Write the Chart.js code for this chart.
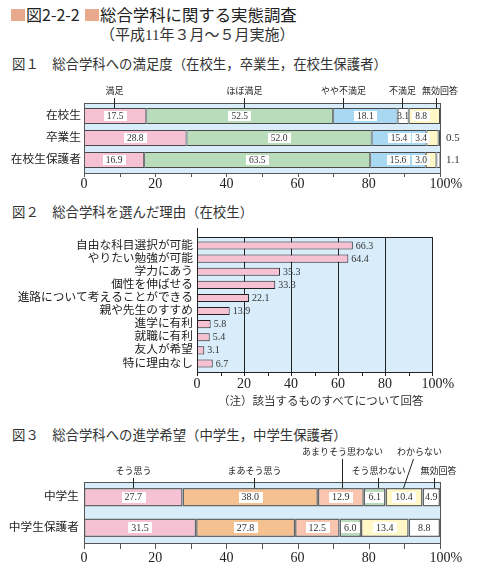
<!DOCTYPE html>
<html lang="ja">
<head>
<meta charset="utf-8">
<script src="https://cdn.jsdelivr.net/npm/chart.js@4.4.1/dist/chart.umd.min.js"></script>
<style>
  body { margin: 0; background: #fff; }
  #page { position: relative; width: 477px; height: 575px; overflow: hidden; color: #333;
          font-family: "Liberation Serif", "Noto Sans CJK JP", serif; }
  .t { position: absolute; white-space: nowrap; line-height: 1; }
  .sq { position: absolute; width: 14px; height: 12px; background: #e9a98c; }
  canvas { position: absolute; left: 0; }
</style>
</head>
<body>
<div id="page">
  <div class="sq" style="left:11px;top:9px"></div>
  <div class="t" style="left:26px;top:6px;font-size:16px;font-family:'Noto Sans CJK JP';color:#222">図2-2-2</div>
  <div class="sq" style="left:85px;top:9px"></div>
  <div class="t" style="left:100px;top:6px;font-size:16.4px;font-family:'Noto Sans CJK JP';color:#222">総合学科に関する実態調査</div>
  <div class="t" style="left:100px;top:28px;font-size:15px">（平成11年３月～５月実施）</div>

  <div class="t" style="left:12px;top:58px;font-size:13.4px">図１　総合学科への満足度（在校生，卒業生，在校生保護者）</div>
  <canvas id="c1" width="477" height="117" style="top:78px"></canvas>

  <div class="t" style="left:12px;top:206px;font-size:13.4px">図２　総合学科を選んだ理由（在校生）</div>
  <canvas id="c2" width="477" height="175" style="top:222px"></canvas>
  <div class="t" style="left:218px;top:396px;font-size:11.5px">（注）該当するものすべてについて回答</div>

  <div class="t" style="left:12px;top:429px;font-size:13.4px">図３　総合学科への進学希望（中学生，中学生保護者）</div>
  <canvas id="c3" width="477" height="135" style="top:440px"></canvas>
</div>
<script>
// 図１ 満足度
const cats1 = ['在校生', '卒業生', '在校生保護者'];
const series1 = ['満足', 'ほぼ満足', 'やや不満足', '不満足', '無効回答'];
const manzoku = [17.5, 28.8, 16.9];
const hoboManzoku = [52.5, 52.0, 63.5];
const yayaFuman = [18.1, 15.4, 15.6];
const fuman = [3.1, 3.4, 3.0];
const mukou1 = [8.8, 0.5, 1.1];

// 図２ 選んだ理由
const reasons = ['自由な科目選択が可能', 'やりたい勉強が可能', '学力にあう', '個性を伸ばせる',
  '進路について考えることができる', '親や先生のすすめ', '進学に有利', '就職に有利', '友人が希望', '特に理由なし'];
const reasonPct = [66.3, 64.4, 35.3, 33.3, 22.1, 13.9, 5.8, 5.4, 3.1, 6.7];

// 図３ 進学希望
const cats3 = ['中学生', '中学生保護者'];
const series3 = ['そう思う', 'まあそう思う', 'あまりそう思わない', 'そう思わない', 'わからない', '無効回答'];
const souOmou = [27.7, 31.5];
const maaSouOmou = [38.0, 27.8];
const amariOmowanai = [12.9, 12.5];
const souOmowanai = [6.1, 6.0];
const wakaranai = [10.4, 13.4];
const mukou3 = [4.9, 8.8];

const xTickLabels = [0, 20, 40, 60, 80, 100];

const SERIF = '"Liberation Serif", "Noto Sans CJK JP", serif';
const PINK = '#f7c1d4', GREEN = '#b9ddbb', BLUE = '#a9d8f2', YELLOW = '#fff8c6',
      WHITE = '#ffffff', ORANGE = '#f6c190', SALMON = '#f9c5ae', SKY = '#d8edf9';

// 背景・枠・目盛
function axesPlugin(o) {
  return {
    id: 'axes',
    beforeDatasetsDraw(chart) {
      const { ctx, chartArea: a } = chart;
      const xs = chart.scales.x;
      const top = a.top - o.ext, bot = a.bottom + o.ext;
      ctx.save();
      ctx.fillStyle = SKY;
      ctx.fillRect(a.left, top, a.right - a.left, bot - top);
      if (o.grid) {
        ctx.strokeStyle = o.line;
        ctx.lineWidth = 1;
        [20, 40, 60, 80].forEach(v => {
          const x = Math.round(xs.getPixelForValue(v)) + 0.5;
          ctx.beginPath(); ctx.moveTo(x, top); ctx.lineTo(x, bot); ctx.stroke();
        });
      }
      ctx.restore();
    },
    afterDatasetsDraw(chart) {
      const { ctx, chartArea: a } = chart;
      const xs = chart.scales.x;
      const top = Math.round(a.top - o.ext), bot = Math.round(a.bottom + o.ext);
      const L = Math.round(a.left), R = Math.round(a.right);
      ctx.save();
      ctx.strokeStyle = o.line;
      ctx.lineWidth = 1;
      ctx.strokeRect(L + 0.5, top + 0.5, R - L, bot - top);
      ctx.beginPath();
      if (o.stub) { ctx.moveTo(L + 0.5, top - o.stub); ctx.lineTo(L + 0.5, top); }
      for (let v = 0; v <= 100; v += 10) {
        const x = Math.round(xs.getPixelForValue(v)) + 0.5;
        ctx.moveTo(x, bot); ctx.lineTo(x, bot + o.tick);
      }
      ctx.stroke();
      ctx.fillStyle = '#222';
      ctx.font = `14px ${SERIF}`;
      ctx.textBaseline = 'alphabetic';
      xTickLabels.forEach(v => {
        const x = xs.getPixelForValue(v);
        ctx.textAlign = 'center';
        ctx.fillText(String(v), x, bot + o.labelBase);
        if (v === 100) {
          const w = ctx.measureText('100').width;
          ctx.textAlign = 'left';
          ctx.fillText('%', x + w / 2, bot + o.labelBase);
        }
      });
      ctx.restore();
    }
  };
}

// 帯グラフの数値ラベル
function stackLabelPlugin(o) {
  return {
    id: 'stackLabels',
    afterDatasetsDraw(chart) {
      const { ctx, chartArea: a } = chart;
      ctx.save();
      ctx.textBaseline = 'middle';
      chart.data.datasets.forEach((ds, di) => {
        chart.getDatasetMeta(di).data.forEach((bar, i) => {
          const v = ds.data[i];
          const txt = v.toFixed(1);
          const fill = Array.isArray(ds.backgroundColor) ? ds.backgroundColor[i] : ds.backgroundColor;
          ctx.fillStyle = '#333';
          if (v < 1.5) {
            ctx.font = `11px ${SERIF}`;
            ctx.textAlign = 'left';
            ctx.fillText(txt, a.right + 6, bar.y + 0.5);
            return;
          }
          ctx.font = `${o.size}px ${SERIF}`;
          const w = ctx.measureText(txt).width;
          let cx = (bar.base + bar.x) / 2;
          if (fill !== WHITE) {
            const half = w / 2 + o.pad;
            if (cx + half > a.right - o.edge) cx = a.right - o.edge - half;
            ctx.fillStyle = '#fff';
            ctx.fillRect(Math.round(cx - half), Math.round(bar.y - o.boxH / 2), Math.round(half * 2), o.boxH);
          }
          ctx.fillStyle = '#333';
          ctx.textAlign = 'center';
          ctx.fillText(txt, cx, bar.y + 0.5);
        });
      });
      ctx.restore();
    }
  };
}

// 凡例の引き出し線
function calloutPlugin(items) {
  return {
    id: 'callouts',
    afterDraw(chart) {
      const { ctx, chartArea: a } = chart;
      const xs = chart.scales.x;
      const bar = chart.getDatasetMeta(0).data[0];
      const barTop = bar.y - bar.height / 2;
      ctx.save();
      ctx.font = `9px ${SERIF}`;
      ctx.fillStyle = '#222';
      ctx.strokeStyle = '#222';
      ctx.lineWidth = 1;
      ctx.textAlign = 'center';
      ctx.textBaseline = 'middle';
      items.forEach(it => {
        const px = Math.round(xs.getPixelForValue(it.at)) + 0.5;
        const ly = a.top - it.rise;
        ctx.fillText(it.text, px + (it.dx || 0), ly);
        ctx.beginPath();
        ctx.moveTo(px + (it.lean || 0), ly + 6);
        ctx.lineTo(px, barTop);
        ctx.stroke();
      });
      ctx.restore();
    }
  };
}

function baseOptions(pad, yWidth, yPad, stacked) {
  return {
    indexAxis: 'y',
    responsive: false,
    animation: false,
    devicePixelRatio: 1,
    layout: { padding: pad },
    plugins: { legend: { display: false }, tooltip: { enabled: false } },
    scales: {
      x: { display: false, min: 0, max: 100, stacked },
      y: {
        stacked,
        grid: { display: false, drawTicks: false },
        border: { display: false },
        ticks: { color: '#222', padding: yPad, autoSkip: false, font: { size: 11.7, family: SERIF } },
        afterFit: s => { s.width = yWidth; }
      }
    }
  };
}

// 図１
const values1 = [manzoku, hoboManzoku, yayaFuman, fuman, mukou1];
const colors1 = [PINK, GREEN, BLUE, [WHITE, YELLOW, YELLOW], [YELLOW, WHITE, WHITE]];
new Chart(document.getElementById('c1'), {
  type: 'bar',
  data: {
    labels: cats1,
    datasets: series1.map((name, k) => ({
      label: name, data: values1[k], backgroundColor: colors1[k],
      borderColor: '#4a4a4a', borderWidth: 1, borderSkipped: false,
      categoryPercentage: 0.727, barPercentage: 1
    }))
  },
  options: baseOptions({ top: 27, right: 37, bottom: 24, left: 0 }, 84, 3, true),
  plugins: [
    axesPlugin({ ext: 2, line: '#555', tick: 4, labelBase: 15 }),
    stackLabelPlugin({ size: 9.5, pad: 3, boxH: 10, edge: 10 }),
    calloutPlugin([
      { text: series1[0], at: 8.3, rise: 13 },
      { text: series1[1], at: 45, rise: 13 },
      { text: series1[2], at: 72.8, rise: 13 },
      { text: series1[3], at: 89.3, rise: 13 },
      { text: series1[4], at: 98.8, rise: 13, dx: 3.5 }
    ])
  ]
});

// 図２
new Chart(document.getElementById('c2'), {
  type: 'bar',
  data: {
    labels: reasons,
    datasets: [{
      data: reasonPct, backgroundColor: PINK, borderColor: '#222', borderWidth: 1,
      borderSkipped: false, categoryPercentage: 0.62, barPercentage: 1
    }]
  },
  options: baseOptions({ top: 17, right: 45, bottom: 27, left: 0 }, 197, 4, false),
  plugins: [
    axesPlugin({ ext: 2, line: '#222', tick: 4, labelBase: 16, grid: true, stub: 9 }),
    {
      id: 'valueLabels',
      afterDatasetsDraw(chart) {
        const ctx = chart.ctx;
        ctx.save();
        ctx.font = `10px ${SERIF}`;
        ctx.fillStyle = '#333';
        ctx.textAlign = 'left';
        ctx.textBaseline = 'middle';
        chart.getDatasetMeta(0).data.forEach((bar, i) => {
          ctx.fillText(reasonPct[i].toFixed(1), bar.x + 3, bar.y + 0.5);
        });
        ctx.restore();
      }
    }
  ]
});

// 図３
const values3 = [souOmou, maaSouOmou, amariOmowanai, souOmowanai, wakaranai, mukou3];
const colors3 = [PINK, ORANGE, SALMON, GREEN, YELLOW, WHITE];
new Chart(document.getElementById('c3'), {
  type: 'bar',
  data: {
    labels: cats3,
    datasets: series3.map((name, k) => ({
      label: name, data: values3[k], backgroundColor: colors3[k],
      borderColor: '#666', borderWidth: 1.5, borderSkipped: false,
      categoryPercentage: 0.6, barPercentage: 1
    }))
  },
  options: baseOptions({ top: 42, right: 37, bottom: 32, left: 0 }, 84, 5, true),
  plugins: [
    axesPlugin({ ext: 0, line: '#555', tick: 6, labelBase: 18.5 }),
    stackLabelPlugin({ size: 10, pad: 3, boxH: 11, edge: 10 }),
    calloutPlugin([
      { text: series3[0], at: 13.9, rise: 10 },
      { text: series3[1], at: 47.7, rise: 10 },
      { text: series3[2], at: 72.4, rise: 29 },
      { text: series3[3], at: 82.5, rise: 10 },
      { text: series3[4], at: 89.7, rise: 29, dx: 16, lean: 10 },
      { text: series3[5], at: 98.4, rise: 10, dx: 4 }
    ])
  ]
});
</script>
</body>
</html>
